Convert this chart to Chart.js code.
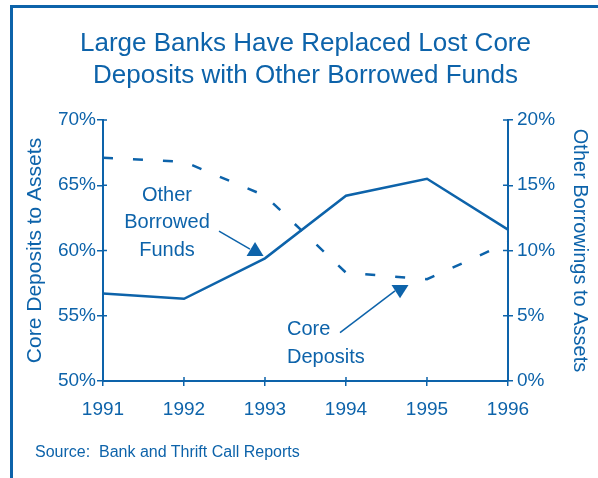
<!DOCTYPE html>
<html>
<head>
<meta charset="utf-8">
<script src="https://cdn.jsdelivr.net/npm/chart.js@4.4.1/dist/chart.umd.min.js"></script>
<style>
    html, body { margin: 0; padding: 0; background: #fff; }
    body { width: 598px; height: 478px; position: relative; overflow: hidden; font-family: "Liberation Sans", Arial, sans-serif; color: #0d63aa; }
    #frame { position: absolute; left: 10px; top: 5px; width: 600px; height: 500px; border-left: 3px solid #0d63aa; border-top: 3px solid #0d63aa; }
    #title { position: absolute; left: 13px; width: 585px; top: 26px; text-align: center; font-size: 26px; line-height: 32px; }
    #source { position: absolute; left: 35px; top: 444px; font-size: 16px; line-height: 16px; white-space: pre; }
    canvas { position: absolute; left: 0; top: 0; }
</style>
</head>
<body>
<div id="frame"></div>
<canvas id="chart" width="598" height="478"></canvas>
<div id="title">Large Banks Have Replaced Lost Core<br>Deposits with Other Borrowed Funds</div>
<div id="source">Source:  Bank and Thrift Call Reports</div>

<script>
// данные
const years = ['1991', '1992', '1993', '1994', '1995', '1996'];
const coreDeposits = [67.1, 66.8, 64.2, 58.3, 57.8, 60.6];     // левая ось, %
const otherBorrowings = [6.7, 6.3, 9.4, 14.2, 15.5, 11.6];     // правая ось, %
const leftTicks = [50, 55, 60, 65, 70];
const rightTicks = [0, 5, 10, 15, 20];

const BLUE = '#0d63aa';
const FONT = '"Liberation Sans", Arial, sans-serif';

// подписи-стрелки (индекс года, значение по левой оси)
const notes = [
    { lines: ['Other', 'Borrowed', 'Funds'], at: [0.79, 64.25], align: 'center',
      arrowFrom: [1.432, 61.49], arrowTo: [1.815, 60.11], head: { at: [1.877, 60.66], base: 59.58, dir: 'up' } },
    { lines: ['Core', 'Deposits'], at: [2.272, 53.91], align: 'left',
      arrowFrom: [2.926, 53.70], arrowTo: [3.605, 56.90], head: { at: [3.667, 56.34], base: 57.36, dir: 'down' } }
];

const fixScale = (w, h) => (scale) => {
    if (w != null) scale.width = w;
    if (h != null) scale.height = h;
    scale.paddingTop = 0; scale.paddingBottom = 0;
    scale.paddingLeft = 0; scale.paddingRight = 0;
};

// засечки, пересекающие ось внутрь
const innerTicks = {
    id: 'innerTicks',
    afterDraw(chart) {
        const ctx = chart.ctx;
        const x = chart.scales.x, yL = chart.scales.yL, yR = chart.scales.yR;
        ctx.save();
        ctx.strokeStyle = BLUE;
        ctx.lineWidth = 1.5;
        ctx.beginPath();
        x.ticks.forEach((t, i) => {
            const px = x.getPixelForTick(i);
            ctx.moveTo(px, x.top); ctx.lineTo(px, x.top - 4);
        });
        yL.ticks.forEach((t, i) => {
            const py = yL.getPixelForTick(i);
            ctx.moveTo(yL.right, py); ctx.lineTo(yL.right + 4, py);
        });
        yR.ticks.forEach((t, i) => {
            const py = yR.getPixelForTick(i);
            ctx.moveTo(yR.left, py); ctx.lineTo(yR.left - 5, py);
        });
        ctx.stroke();
        ctx.restore();
    }
};

const annotations = {
    id: 'annotations',
    afterDatasetsDraw(chart) {
        const ctx = chart.ctx;
        const x = chart.scales.x, y = chart.scales.yL;
        const px = i => x.getPixelForValue(i);
        const py = v => y.getPixelForValue(v);
        ctx.save();
        ctx.fillStyle = BLUE;
        ctx.strokeStyle = BLUE;
        ctx.font = '20px ' + FONT;
        ctx.textBaseline = 'middle';
        notes.forEach(n => {
            ctx.textAlign = n.align;
            n.lines.forEach((s, k) => ctx.fillText(s, px(n.at[0]), py(n.at[1]) + k * 27.5));

            ctx.lineWidth = 1.5;
            ctx.beginPath();
            ctx.moveTo(px(n.arrowFrom[0]), py(n.arrowFrom[1]));
            ctx.lineTo(px(n.arrowTo[0]), py(n.arrowTo[1]));
            ctx.stroke();

            const hx = px(n.head.at[0]), hy = py(n.head.at[1]), by = py(n.head.base);
            ctx.beginPath();
            ctx.moveTo(hx, hy);
            ctx.lineTo(hx - 8.5, by);
            ctx.lineTo(hx + 8.5, by);
            ctx.closePath();
            ctx.fill();
        });
        ctx.restore();
    }
};

new Chart(document.getElementById('chart'), {
    type: 'line',
    data: {
        labels: years,
        datasets: [
            {
                label: 'Core Deposits',
                data: coreDeposits,
                yAxisID: 'yL',
                borderColor: BLUE,
                borderWidth: 2.5,
                borderDash: [10, 20],
                borderCapStyle: 'butt',
                pointRadius: 0,
                tension: 0,
                fill: false
            },
            {
                label: 'Other Borrowed Funds',
                data: otherBorrowings,
                yAxisID: 'yR',
                borderColor: BLUE,
                borderWidth: 2.5,
                pointRadius: 0,
                tension: 0,
                fill: false
            }
        ]
    },
    options: {
        responsive: false,
        animation: false,
        layout: { padding: { top: 120, left: 0, right: 0, bottom: 0 } },
        plugins: { legend: { display: false }, tooltip: { enabled: false } },
        scales: {
            x: {
                type: 'category',
                offset: false,
                afterFit: fixScale(null, 97),
                border: { display: true, color: BLUE, width: 2 },
                grid: { display: true, drawOnChartArea: false, drawTicks: true, tickLength: 5, color: BLUE, lineWidth: 1.5 },
                ticks: { color: BLUE, font: { family: FONT, size: 19 }, padding: 12, maxRotation: 0, autoSkip: false }
            },
            yL: {
                type: 'linear',
                position: 'left',
                min: leftTicks[0],
                max: leftTicks[leftTicks.length - 1],
                afterFit: fixScale(103, null),
                afterBuildTicks: s => { s.ticks = leftTicks.map(v => ({ value: v })); },
                border: { display: true, color: BLUE, width: 2 },
                grid: { display: true, drawOnChartArea: false, drawTicks: true, tickLength: 6, color: BLUE, lineWidth: 1.5 },
                ticks: { color: BLUE, font: { family: FONT, size: 19 }, padding: 1, callback: v => v + '%' },
                title: { display: true, text: 'Core Deposits to Assets', color: BLUE, font: { family: FONT, size: 21 }, padding: { top: 23, bottom: 0 } }
            },
            yR: {
                type: 'linear',
                position: 'right',
                min: rightTicks[0],
                max: rightTicks[rightTicks.length - 1],
                afterFit: fixScale(90, null),
                afterBuildTicks: s => { s.ticks = rightTicks.map(v => ({ value: v })); },
                border: { display: true, color: BLUE, width: 2 },
                grid: { display: true, drawOnChartArea: false, drawTicks: true, tickLength: 5, color: BLUE, lineWidth: 1.5 },
                ticks: { color: BLUE, font: { family: FONT, size: 19 }, padding: 4, callback: v => v + '%' },
                title: { display: true, text: 'Other Borrowings to Assets', color: BLUE, font: { family: FONT, size: 20 }, padding: { top: 6, bottom: 0 } }
            }
        }
    },
    plugins: [innerTicks, annotations]
});
</script>
</body>
</html>
